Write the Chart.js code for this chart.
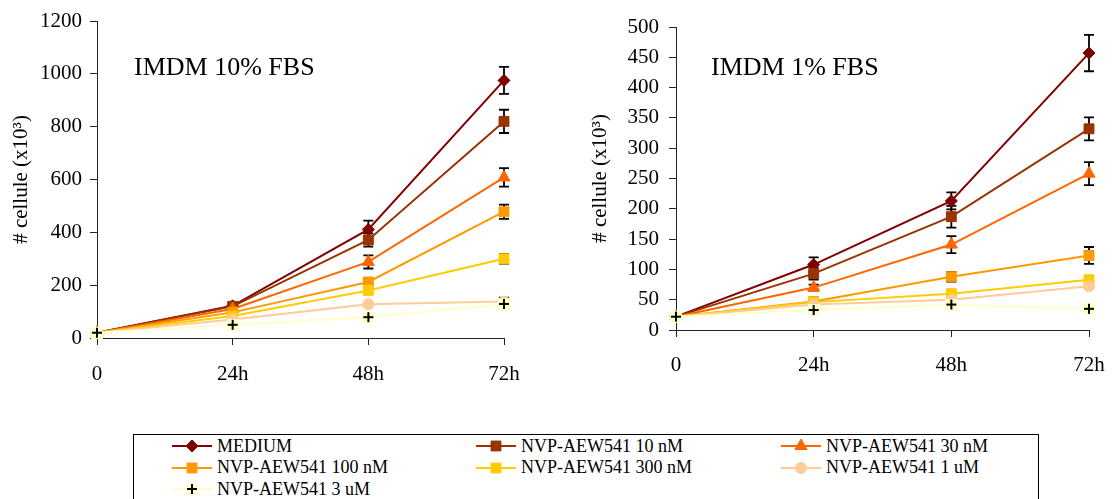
<!DOCTYPE html>
<html>
<head>
<meta charset="utf-8">
<script src="https://cdn.jsdelivr.net/npm/chart.js@4.4.0/dist/chart.umd.min.js"></script>
<style>
  body { margin: 0; background: #fff; width: 1117px; height: 499px; overflow: hidden; position: relative;
         font-family: 'Liberation Serif', 'Times New Roman', serif; }
  canvas.chart { position: absolute; top: 0; }
  #legend { position: absolute; left: 133px; top: 434px; width: 906px; height: 90px; box-sizing: border-box;
            border: 1px solid #000; }
  .item { position: absolute; height: 20px; display: flex; align-items: center; font-size: 18px; white-space: nowrap; color: #000; }
  .item canvas { margin-right: 5px; }
</style>
</head>
<body>
<canvas id="left" class="chart" width="560" height="420" style="left:0"></canvas>
<canvas id="right" class="chart" width="557" height="420" style="left:560px"></canvas>
<div id="legend"></div>
<script>
// data
const times = ['0', '24h', '48h', '72h'];
const seriesNames = ['MEDIUM', 'NVP-AEW541 10 nM', 'NVP-AEW541 30 nM', 'NVP-AEW541 100 nM',
                     'NVP-AEW541 300 nM', 'NVP-AEW541 1 uM', 'NVP-AEW541 3 uM'];

// IMDM 10% FBS
const fbs10Values = [
  [20, 122, 411, 975],
  [20, 120, 371, 820],
  [20, 110, 288, 608],
  [20, 97, 212, 478],
  [20, 83, 180, 300],
  [20, 70, 128, 138],
  [20, 50, 79, 129]
];
const fbs10Errors = [
  [0, 6, 33, 51],
  [0, 6, 25, 44],
  [0, 5, 25, 35],
  [0, 4, 10, 27],
  [0, 4, 8, 18],
  [0, 3, 6, 15],
  [0, 3, 6, 10]
];
const fbs10Ticks = [0, 200, 400, 600, 800, 1000, 1200];

// IMDM 1% FBS
const fbs1Values = [
  [22, 108, 213, 457],
  [22, 93, 187, 332],
  [22, 70, 141, 258],
  [22, 47, 88, 123],
  [22, 46, 60, 83],
  [22, 42, 50, 72],
  [22, 33, 42, 35]
];
const fbs1Errors = [
  [0, 12, 14, 30],
  [0, 10, 18, 19],
  [0, 5, 14, 19],
  [0, 4, 8, 14],
  [0, 3, 4, 6],
  [0, 3, 3, 3],
  [0, 3, 3, 3]
];
const fbs1Ticks = [0, 50, 100, 150, 200, 250, 300, 350, 400, 450, 500];

// styles
const seriesColors = ['#800000', '#993300', '#FF6600', '#FF9900', '#FFCC00', '#FFCC99', '#FFFFCC'];
const serif = "'Liberation Serif', 'Times New Roman', serif";

function plusMarker() {
  const c = document.createElement('canvas');
  c.width = 12; c.height = 12;
  const g = c.getContext('2d');
  g.fillStyle = '#FFFFCC';
  g.fillRect(0, 0, 12, 12);
  g.strokeStyle = '#000';
  g.lineWidth = 2;
  g.beginPath();
  g.moveTo(6, 1); g.lineTo(6, 11);
  g.moveTo(1, 6); g.lineTo(11, 6);
  g.stroke();
  return c;
}
const plus = plusMarker();

const pointStyles = ['rectRot', 'rect', 'triangle', 'rect', 'rect', 'circle', plus];
const pointSizes = [6, 7, 7, 7, 7, 5.5, 6];

Chart.defaults.font.family = serif;
Chart.defaults.color = '#000';

const errorBars = {
  id: 'errorBars',
  beforeDatasetsDraw(chart) {
    const ctx = chart.ctx;
    const y = chart.scales.y;
    ctx.save();
    ctx.strokeStyle = '#000';
    ctx.lineWidth = 1.8;
    chart.data.datasets.forEach((ds, i) => {
      const meta = chart.getDatasetMeta(i);
      (ds.errors || []).forEach((e, j) => {
        if (!e) return;
        const x = meta.data[j].x;
        const top = y.getPixelForValue(ds.data[j] + e);
        const bot = y.getPixelForValue(ds.data[j] - e);
        ctx.beginPath();
        ctx.moveTo(x, top); ctx.lineTo(x, bot);
        ctx.moveTo(x - 5, top); ctx.lineTo(x + 5, top);
        ctx.moveTo(x - 5, bot); ctx.lineTo(x + 5, bot);
        ctx.stroke();
      });
    });
    ctx.restore();
  }
};

const panelTitle = {
  id: 'panelTitle',
  afterDraw(chart, args, opts) {
    const ctx = chart.ctx;
    ctx.save();
    ctx.font = '26px ' + serif;
    ctx.fillStyle = '#000';
    ctx.textBaseline = 'alphabetic';
    ctx.fillText(opts.text, chart.chartArea.left + opts.dx, chart.chartArea.top + opts.dy);
    ctx.restore();
  }
};

function makeChart(id, values, errors, ticks, cfg) {
  const styles = cfg.styles || pointStyles;
  const datasets = values.map((v, i) => ({
    label: seriesNames[i],
    data: v,
    errors: errors[i],
    borderColor: seriesColors[i],
    backgroundColor: seriesColors[i],
    borderWidth: 2,
    pointStyle: styles[i],
    pointRadius: pointSizes[i],
    pointBorderWidth: styles[i] === 'star' ? 2 : 1,
    pointBorderColor: seriesColors[i],
    pointBackgroundColor: seriesColors[i],
    tension: 0,
    clip: false,
    order: values.length - 1 - i
  }));
  return new Chart(document.getElementById(id), {
    type: 'line',
    data: { labels: times, datasets },
    options: {
      responsive: false,
      animation: false,
      devicePixelRatio: 1,
      layout: { padding: cfg.padding },
      plugins: {
        legend: { display: false },
        tooltip: { enabled: false },
        panelTitle: { text: cfg.title, dx: cfg.titleDx, dy: cfg.titleDy }
      },
      scales: {
        x: {
          type: 'category',
          offset: false,
          grid: { display: true, drawOnChartArea: false, drawTicks: true, tickLength: 7, color: '#222' },
          border: { display: true, color: '#222', width: 1 },
          ticks: { font: { size: 21 }, padding: cfg.xPad, maxRotation: 0 },
          afterFit(s) { s.height = 50; s.paddingLeft = 0; s.paddingRight = 0; }
        },
        y: {
          min: ticks[0],
          max: ticks[ticks.length - 1],
          grid: { display: true, drawOnChartArea: false, drawTicks: true, tickLength: 7, color: '#222' },
          border: { display: true, color: '#222', width: 1 },
          ticks: { stepSize: ticks[1] - ticks[0], font: { size: 21 }, padding: cfg.tickPad,
                   callback: v => String(v) },
          title: { display: true, text: '# cellule (x10\u00B3)', font: { size: 21 }, padding: { top: 4, bottom: 4 } },
          afterFit(s) { s.width = cfg.yWidth; s.paddingTop = 0; s.paddingBottom = 0; }
        }
      }
    },
    plugins: [errorBars, panelTitle]
  });
}

makeChart('left', fbs10Values, fbs10Errors, fbs10Ticks, {
  padding: { left: 5, top: 21, right: 56, bottom: 32 },
  yWidth: 92, tickPad: 8, xPad: 17,
  title: 'IMDM 10% FBS', titleDx: 37, titleDy: 54
});

const rightStyles = pointStyles.slice();
rightStyles[4] = 'star';
makeChart('right', fbs1Values, fbs1Errors, fbs1Ticks, {
  padding: { left: 24, top: 27, right: 28, bottom: 40 },
  yWidth: 92, tickPad: 10, xPad: 16,
  title: 'IMDM 1% FBS', titleDx: 35, titleDy: 48
});

// legend
const legend = document.getElementById('legend');
const colLeft = [38, 342, 647];
const rowTop = [1, 22.7, 44];
seriesNames.forEach((name, i) => {
  const item = document.createElement('div');
  item.className = 'item';
  item.style.left = colLeft[i % 3] + 'px';
  item.style.top = rowTop[Math.floor(i / 3)] + 'px';
  const c = document.createElement('canvas');
  c.width = 40; c.height = 20;
  const g = c.getContext('2d');
  g.strokeStyle = seriesColors[i];
  g.lineWidth = 2;
  g.beginPath(); g.moveTo(0, 10); g.lineTo(40, 10); g.stroke();
  g.fillStyle = seriesColors[i];
  g.lineWidth = 1;
  if (Chart.helpers && Chart.helpers.drawPoint) {
    Chart.helpers.drawPoint(g, { pointStyle: pointStyles[i], radius: pointSizes[i], rotation: 0, borderWidth: 1 }, 20, 10);
  } else {
    g.fillRect(15, 5, 10, 10);
  }
  item.appendChild(c);
  const t = document.createElement('span');
  t.textContent = name;
  item.appendChild(t);
  legend.appendChild(item);
});
</script>
</body>
</html>
